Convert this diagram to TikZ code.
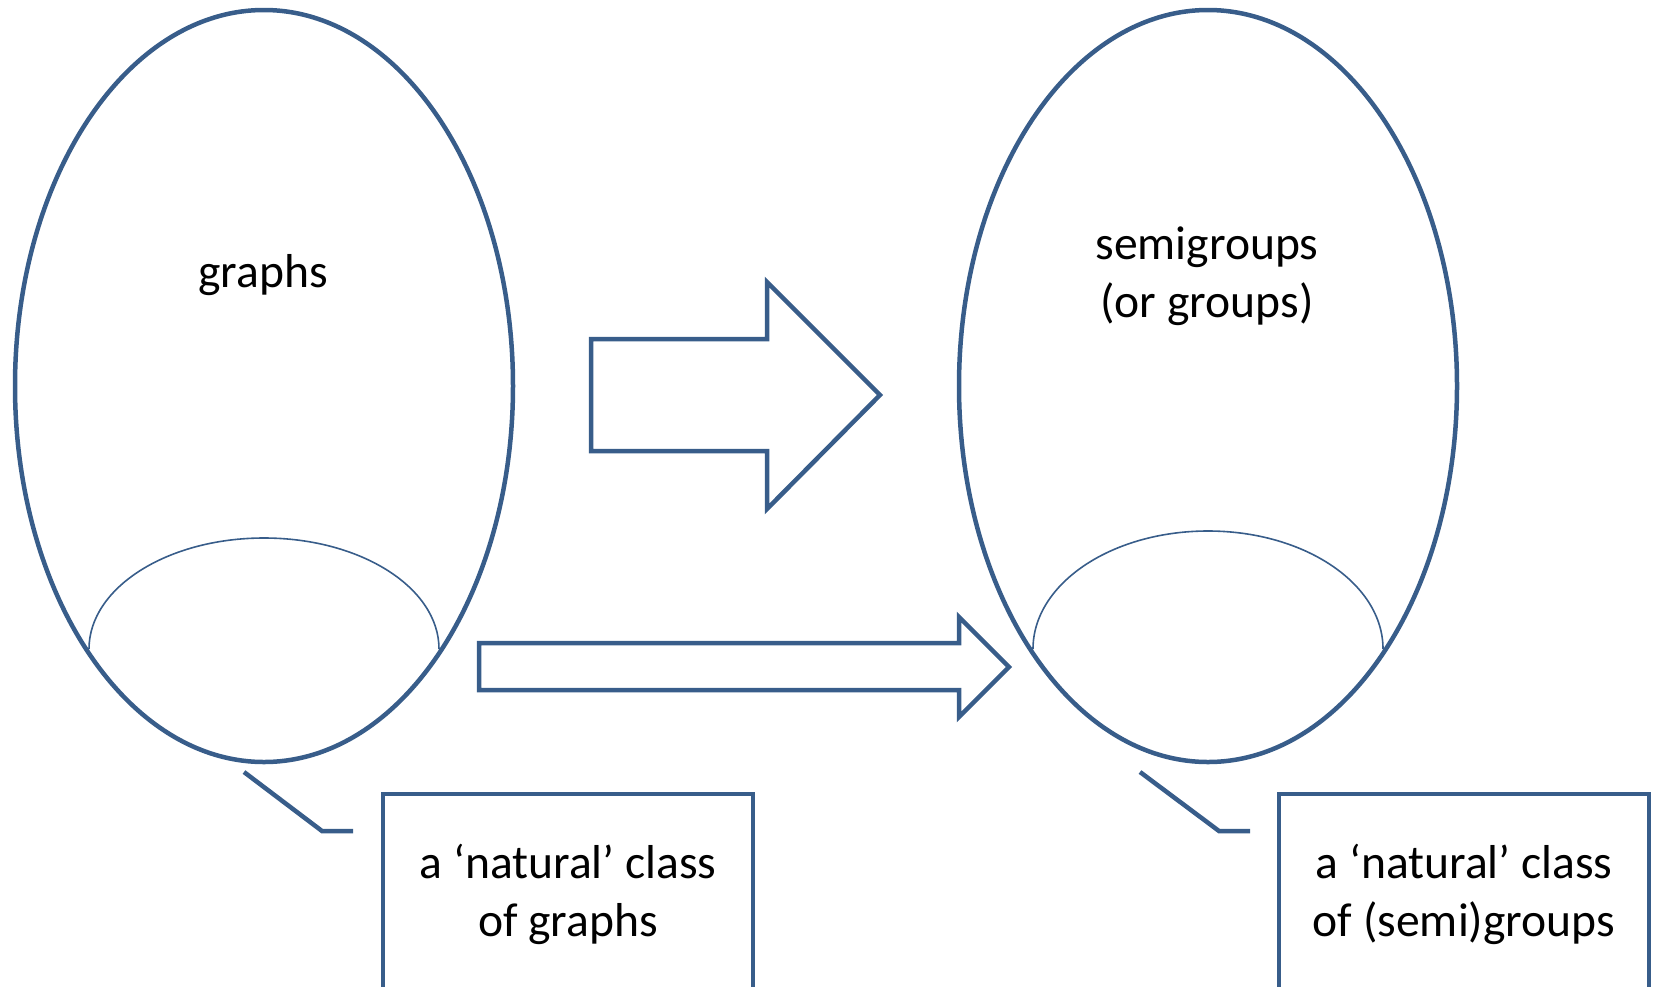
\documentclass[tikz,border=0pt]{standalone}
\usepackage{fontspec}
\setmainfont{Carlito}
\usetikzlibrary{shapes.geometric}
\definecolor{accent}{HTML}{385D8A}
\tikzset{
  big/.style={draw=accent, line width=4.5pt, ellipse, inner sep=0pt},
  inner/.style={draw=accent, line width=1.6pt},
  blockarrow/.style={draw=accent, line width=4.5pt, line join=miter},
  callout/.style={draw=accent, line width=4.5pt},
  boxline/.style={draw=accent, line width=4.5pt},
  lbl/.style={font=\fontsize{47.6}{58}\selectfont, align=center, inner sep=0pt}
}
\begin{document}
\begin{tikzpicture}[x=1pt,y=-1pt]
\useasboundingbox (0,0) rectangle (1655,986);
% big ellipses
\node[big, minimum width=498pt, minimum height=752pt] (E1) at (264,386) {};
\node[big, minimum width=498pt, minimum height=752pt] (E2) at (1208,386) {};
% inner arcs
\draw[inner] (89,649) arc[start angle=180, end angle=0, x radius=175pt, y radius=111pt];
\draw[inner] (1033,649) arc[start angle=180, end angle=0, x radius=175pt, y radius=118pt];
% block arrows
\draw[blockarrow] (591,339) -- (767,339) -- (767,282) -- (880,395) -- (767,509) -- (767,451) -- (591,451) -- cycle;
\draw[blockarrow] (479,643) -- (959,643) -- (959,617) -- (1009,667) -- (959,717) -- (959,690) -- (479,690) -- cycle;
% boxes
\draw[boxline] (383,1010) -- (383,794) -- (753,794) -- (753,1010);
\draw[boxline] (1279,1010) -- (1279,794) -- (1649,794) -- (1649,1010);
% callouts
\coordinate (c1a) at (244,772);
\coordinate (c1b) at (322,831);
\coordinate (c1c) at (353,831);
\coordinate (c2a) at (1140,772);
\coordinate (c2b) at (1219,831);
\coordinate (c2c) at (1250,831);
\draw[callout] (c1a) -- (c1b) -- (c1c);
\draw[callout] (c2a) -- (c2b) -- (c2c);
% labels
\node[lbl] (t1) at (263,275) {graphs};
\node[lbl] (t2) at (1207,276) {semigroups\\(or groups)};
\node[lbl] (t3) at (568,894) {a ‘natural’ class\\of graphs};
\node[lbl] (t4) at (1464,894) {a ‘natural’ class\\of (semi)groups};
\end{tikzpicture}
\end{document}
